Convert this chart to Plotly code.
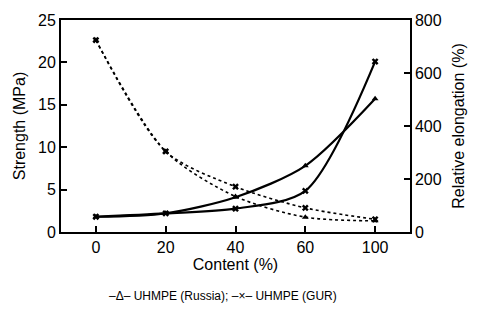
import plotly.graph_objects as go

content = ["0", "20", "40", "60", "100"]
strength_russia = [1.8, 2.2, 4.1, 7.8, 15.7]
strength_gur = [1.8, 2.2, 2.75, 4.85, 20.1]
elong_russia = [724, 304, 134, 56, 42]
elong_gur = [724, 304, 171, 91, 48]
left_ticks = [0, 5, 10, 15, 20, 25]
right_ticks = [0, 200, 400, 600, 800]

FONT = "Liberation Sans, Arial, sans-serif"
fig = go.Figure()
fig.add_trace(go.Scatter(x=content, y=strength_russia, mode="lines+markers",
                         line=dict(color="black", width=2.2, shape="spline", smoothing=0.8),
                         marker=dict(symbol="triangle-up", size=6, color="black"), yaxis="y"))
fig.add_trace(go.Scatter(x=content, y=strength_gur, mode="lines+markers",
                         line=dict(color="black", width=2.2, shape="spline", smoothing=0.8),
                         marker=dict(symbol="x", size=6, color="black"), yaxis="y"))
fig.add_trace(go.Scatter(x=content, y=elong_russia, mode="lines+markers",
                         line=dict(color="black", width=1.6, dash="dot", shape="spline", smoothing=0.8),
                         marker=dict(symbol="triangle-up", size=6, color="black"), yaxis="y2"))
fig.add_trace(go.Scatter(x=content, y=elong_gur, mode="lines+markers",
                         line=dict(color="black", width=1.6, dash="dot", shape="spline", smoothing=0.8),
                         marker=dict(symbol="x", size=6, color="black"), yaxis="y2"))

fig.update_layout(
    width=477, height=321, margin=dict(l=61, r=62, t=15, b=89),
    paper_bgcolor="white", plot_bgcolor="white", showlegend=False,
    font=dict(family=FONT, color="black", size=16),
    xaxis=dict(type="category", range=[-0.5, 4.5], showline=True, linecolor="black", linewidth=2,
               mirror=True, ticks="inside", ticklen=6, tickwidth=1.5, tickcolor="black",
               showgrid=False, zeroline=False,
               title=dict(text="Content (%)", font=dict(size=16), standoff=3)),
    yaxis=dict(range=[0, 25], tickvals=left_ticks, showline=True, linecolor="black", linewidth=2,
               ticks="inside", ticklen=6, tickwidth=1.5, tickcolor="black",
               showgrid=False, zeroline=False,
               title=dict(text="Strength (MPa)", font=dict(size=16), standoff=8)),
    yaxis2=dict(range=[0, 800], tickvals=right_ticks, overlaying="y", side="right",
                showline=True, linecolor="black", linewidth=1.5,
                ticks="inside", ticklen=6, tickwidth=1.5, tickcolor="black",
                showgrid=False, zeroline=False,
                title=dict(text="Relative elongation (%)", font=dict(size=16), standoff=12)),
)
fig.add_annotation(text="\u2013\u0394\u2013 UHMPE (Russia); \u2013\u00d7\u2013 UHMPE (GUR)",
                   xref="paper", yref="paper", x=0.465, y=-0.3, xanchor="center", yanchor="middle",
                   showarrow=False, font=dict(size=12, family=FONT))
fig.write_html("out.html")
